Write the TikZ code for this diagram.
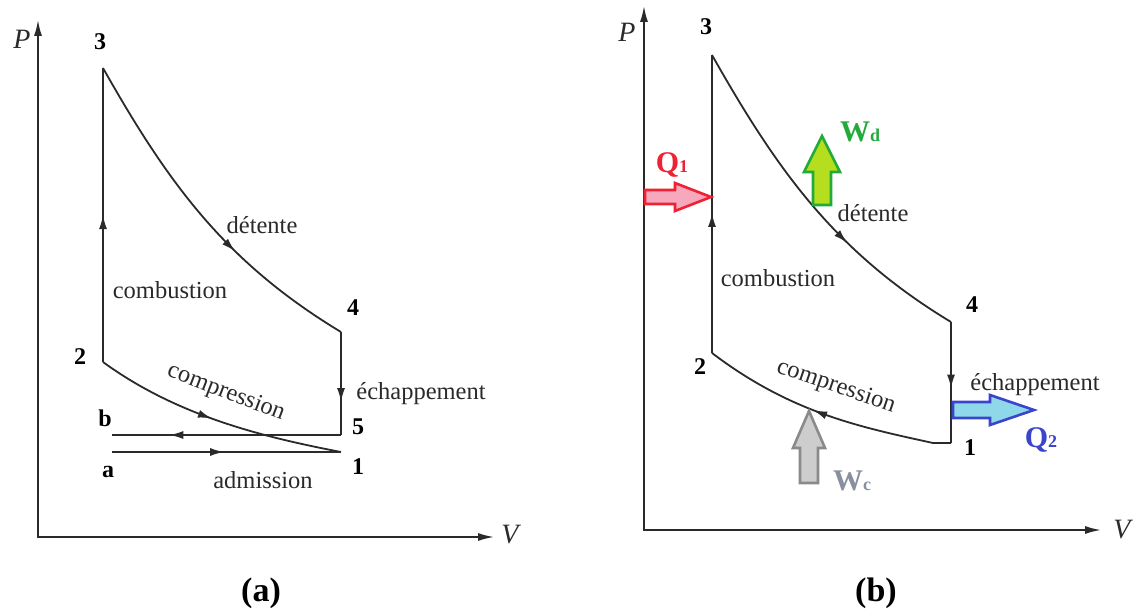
\documentclass[tikz,border=0pt]{standalone}
\usepackage{fontspec}
\newfontfamily\tnr{Liberation Serif}
\usetikzlibrary{arrows.meta,decorations.markings}
\definecolor{ink}{HTML}{2A2A2A}
\definecolor{qred}{HTML}{EE2233}
\definecolor{qpink}{HTML}{F7A8BC}
\definecolor{wgreen}{HTML}{22AA3A}
\definecolor{wlime}{HTML}{B5DE1E}
\definecolor{qblue}{HTML}{3B44CC}
\definecolor{qcyan}{HTML}{8FD8EA}
\definecolor{wgray}{HTML}{8A8A8A}
\definecolor{wlight}{HTML}{CDCDCD}
\definecolor{wctext}{HTML}{8890A0}
\begin{document}
\begin{tikzpicture}[x=1pt,y=-1pt,
  axis/.style={ink, line width=1.7pt, {Latex[length=16pt,width=8pt]}-{Latex[length=16pt,width=8pt]}},
  cyc/.style={ink, line width=1.8pt},
  midarrow/.style={postaction={decorate, decoration={markings, mark=at position #1 with {\arrow{Latex[length=14pt,width=8pt]}}}}},
  lbl/.style={font=\tnr\fontsize{24.5}{28}\selectfont, text=ink, inner sep=0pt},
  num/.style={font=\tnr\bfseries\fontsize{24}{28}\selectfont, text=black, inner sep=0pt},
  axl/.style={font=\tnr\itshape\fontsize{28}{30}\selectfont, text=ink, inner sep=0pt},
  big/.style={font=\tnr\bfseries\fontsize{30}{32}\selectfont, inner sep=0pt},
  captxt/.style={font=\tnr\bfseries\fontsize{34}{36}\selectfont, inner sep=0pt},
  blk/.style={line width=2.6pt, line join=miter}
]
\useasboundingbox (0,0) rectangle (1136,615);

% ---------------- panel (a) ----------------
\coordinate (oa) at (38,537);
\coordinate (ya) at (38,20);
\coordinate (xa) at (494,537);
\draw[axis] (ya) -- (oa) -- (xa);
\node[axl] (Pa) at (22,39) {P};
\node[axl] (Va) at (510,535) {V};

\coordinate (a3) at (103,68);
\coordinate (a2) at (103,362);
\coordinate (a4) at (341,332);
\coordinate (a5) at (341,435);
\coordinate (a1) at (341,452);
\coordinate (ab) at (112,435);
\coordinate (aa) at (112,452);

\draw[cyc, midarrow=0.5] (a2) -- (a3);
\draw[cyc, midarrow=0.63] (a3) .. controls (168,183) and (225,262) .. (a4);
\draw[cyc, midarrow=0.68] (a4) -- (a5);
\draw[cyc, midarrow=0.75] (a5) -- (ab);
\draw[cyc, midarrow=0.49] (aa) -- (a1);
\draw[cyc, midarrow=0.48] (a2) .. controls (177,416) and (263,437) .. (a1);

\node[num] (l3a) at (100,42) {3};
\node[num] (l2a) at (80,357) {2};
\node[num] (l4a) at (353,308) {4};
\node[num] (l5a) at (358,427) {5};
\node[num] (l1a) at (358,467) {1};
\node[num] (lba) at (105,418) {b};
\node[num] (laa) at (108,472) {a};

\node[lbl] (deta) at (262,225) {détente};
\node[lbl] (coma) at (170,290) {combustion};
\node[lbl] (echa) at (421,394) {échappement};
\node[lbl, rotate=-21] (cmpa) at (226,393) {compression};
\node[lbl] (adma) at (263,480) {admission};

% ---------------- panel (b) ----------------
\coordinate (ob) at (644,530);
\coordinate (yb) at (644,6);
\coordinate (xb) at (1101,530);
\draw[axis] (yb) -- (ob) -- (xb);
\node[axl] (Pb) at (627,32) {P};
\node[axl] (Vb) at (1122,530) {V};

\coordinate (b3) at (712,55);
\coordinate (b2) at (712,353);
\coordinate (b4) at (951,322);
\coordinate (b1) at (951,443);
\coordinate (bc) at (933,443);

\draw[cyc, midarrow=0.47] (b2) -- (b3);
\draw[cyc, midarrow=0.64] (b3) .. controls (777,170) and (835,252) .. (b4);
\draw[cyc, midarrow=0.55] (b4) -- (b1);
\draw[cyc, midarrow=0.55] (b1) -- (bc) .. controls (860,427) and (791,413) .. (b2);

\node[num] (l3b) at (706,27) {3};
\node[num] (l2b) at (700,367) {2};
\node[num] (l4b) at (972,305) {4};
\node[num] (l1b) at (970,448) {1};

\node[lbl] (detb) at (873,213) {détente};
\node[lbl] (comb) at (778,278) {combustion};
\node[lbl] (echb) at (1035,385) {échappement};
\node[lbl, rotate=-19] (cmpb) at (836,387) {compression};

% block arrows
\draw[blk, draw=qred, fill=qpink] (645,190) -- (675,190) -- (675,183) -- (711,197) -- (675,211) -- (675,204) -- (645,204) -- cycle;
\draw[blk, draw=wgreen, fill=wlime] (813,205) -- (813,172) -- (804,172) -- (822,136) -- (840,172) -- (831,172) -- (831,205) -- cycle;
\draw[blk, draw=qblue, fill=qcyan] (953,402) -- (990,402) -- (990,395) -- (1034,410) -- (990,425) -- (990,418) -- (953,418) -- cycle;
\draw[blk, draw=wgray, fill=wlight] (800,483) -- (800,448) -- (793,448) -- (809,411) -- (825,448) -- (818,448) -- (818,483) -- cycle;

\node[big, text=qred] (Q1) at (672,165) {Q{\fontsize{18}{19}\selectfont 1}};
\node[big, text=wgreen] (Wd) at (860,132) {W{\fontsize{18}{19}\selectfont d}};
\node[big, text=qblue] (Q2) at (1041,440) {Q{\fontsize{18}{19}\selectfont 2}};
\node[big, text=wctext] (Wc) at (852,481) {W{\fontsize{18}{19}\selectfont c}};

% captions
\node[captxt] (capa) at (261,593) {(a)};
\node[captxt] (capb) at (876,593) {(b)};
\end{tikzpicture}
\end{document}
